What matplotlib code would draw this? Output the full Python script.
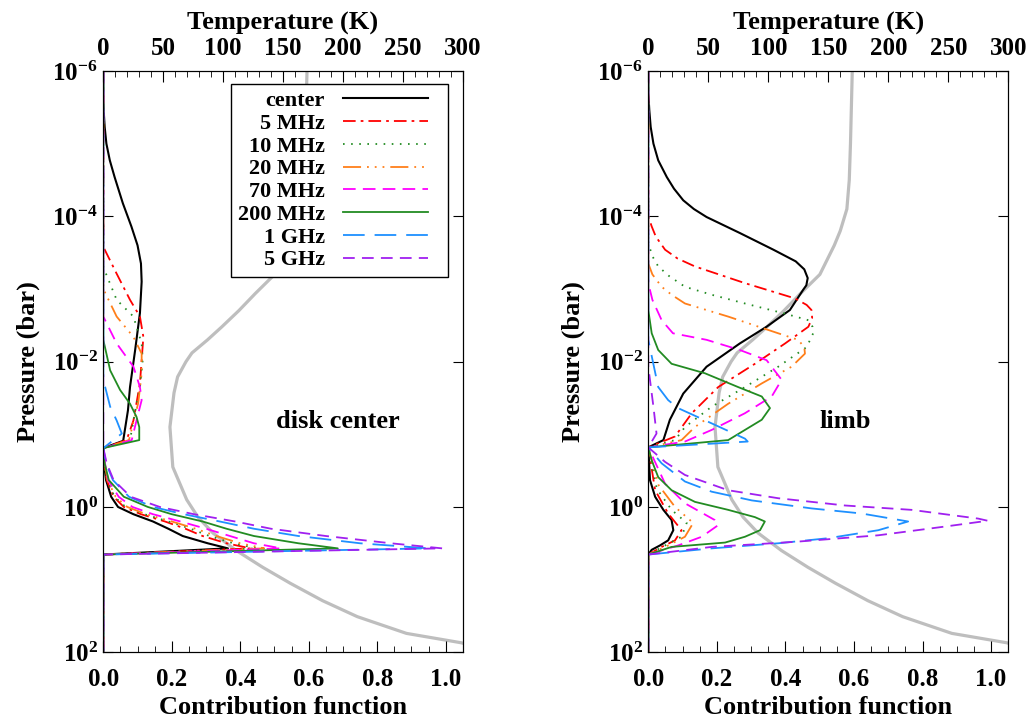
import numpy as np
import matplotlib
matplotlib.use('Agg')
import matplotlib.pyplot as plt
from matplotlib.lines import Line2D
from matplotlib.legend_handler import HandlerLine2D
from matplotlib.ticker import FixedLocator, FixedFormatter, MultipleLocator, NullLocator, FormatStrFormatter

plt.rcParams['font.family'] = ['Liberation Serif', 'DejaVu Serif']
plt.rcParams['font.weight'] = 'bold'
plt.rcParams['axes.labelweight'] = 'bold'
plt.rcParams['mathtext.fontset'] = 'custom'
plt.rcParams['mathtext.rm'] = 'Liberation Serif:bold'
plt.rcParams['mathtext.it'] = 'Liberation Serif:bold'
plt.rcParams['mathtext.bf'] = 'Liberation Serif:bold'

labels = ['center', '5 MHz', '10 MHz', '20 MHz', '70 MHz', '200 MHz', '1 GHz', '5 GHz']

# temperature profile: (log10 P [bar], T [K])
temp_profile = [(-6, 170), (-5, 168.5), (-4.5, 167.5), (-4.1, 165.5), (-3.8, 160), (-3.6, 155),
                (-3.4, 149), (-3.2, 143), (-2.94, 127), (-2.7, 113), (-2.48, 99), (-2.3, 87),
                (-2.12, 74), (-2.0, 69), (-1.79, 62), (-1.57, 59), (-1.1, 55.6), (-0.55, 58),
                (-0.1, 69.6), (0.14, 79), (0.36, 91.6), (0.6, 111), (0.83, 133), (1.05, 156),
                (1.29, 183), (1.51, 212), (1.74, 253), (1.87, 299), (2.0, 325)]

# contribution functions, disk center: (log10 P, CF)
disk_center = [(-6, 0), (-5.6, 0), (-5.46, 0.001), (-5.23, 0.004), (-5.0, 0.009), (-4.77, 0.019),
               (-4.54, 0.033), (-4.18, 0.057), (-3.86, 0.082),
               (-3.6, 0.100), (-3.35, 0.110), (-3.1, 0.112), (-2.67, 0.107), (-2.16, 0.093),
               (-1.65, 0.078), (-1.33, 0.072), (-0.91, 0.058), (-0.81, 0), (-0.6, 0.002),
               (-0.37, 0.008), (-0.14, 0.023), (0.0, 0.043), (0.1, 0.088), (0.2, 0.145),
               (0.3, 0.19), (0.4, 0.232), (0.5, 0.305), (0.57, 0.364), (0.655, 0), (2, 0)]
disk_5mhz = [(-6, 0), (-3.58, 0), (-3.21, 0.039), (-2.85, 0.078), (-2.62, 0.107), (-2.34, 0.117),
             (-2.02, 0.112), (-1.70, 0.107), (-1.19, 0.088), (-0.92, 0.068), (-0.81, 0),
             (-0.6, 0.003), (-0.37, 0.01), (-0.14, 0.03), (0.0, 0.06), (0.1, 0.11), (0.2, 0.18),
             (0.3, 0.24), (0.4, 0.29), (0.5, 0.36), (0.57, 0.43), (0.655, 0), (2, 0)]
disk_10mhz = [(-6, 0), (-3.3, 0), (-2.85, 0.039), (-2.62, 0.088), (-2.25, 0.112), (-2.02, 0.115),
              (-1.65, 0.107), (-1.29, 0.092), (-0.92, 0.078), (-0.81, 0),
              (-0.6, 0.003), (-0.37, 0.011), (-0.14, 0.033), (0.0, 0.065), (0.1, 0.12), (0.2, 0.19),
              (0.3, 0.255), (0.4, 0.31), (0.5, 0.38), (0.57, 0.45), (0.655, 0), (2, 0)]
disk_20mhz = [(-6, 0), (-3.0, 0), (-2.62, 0.039), (-2.34, 0.088), (-2.11, 0.112), (-1.84, 0.112),
              (-1.43, 0.102), (-0.92, 0.075), (-0.81, 0),
              (-0.6, 0.004), (-0.37, 0.012), (-0.14, 0.036), (0.0, 0.07), (0.1, 0.125), (0.2, 0.2),
              (0.3, 0.27), (0.4, 0.33), (0.5, 0.40), (0.57, 0.47), (0.655, 0), (2, 0)]
disk_70mhz = [(-6, 0), (-2.62, 0), (-2.25, 0.039), (-1.93, 0.088), (-1.65, 0.107), (-1.47, 0.112),
              (-1.19, 0.097), (-0.92, 0.083), (-0.81, 0),
              (-0.6, 0.005), (-0.37, 0.014), (-0.14, 0.045), (0.0, 0.085), (0.1, 0.145), (0.2, 0.225),
              (0.3, 0.30), (0.4, 0.37), (0.5, 0.44), (0.57, 0.52), (0.655, 0), (2, 0)]
disk_200mhz = [(-6, 0), (-2.3, 0), (-1.88, 0.02), (-1.61, 0.049), (-1.42, 0.078), (-1.24, 0.097),
               (-1.1, 0.105), (-0.92, 0.105), (-0.81, 0),
               (-0.6, 0.004), (-0.37, 0.016), (-0.14, 0.06), (0.0, 0.13), (0.1, 0.20), (0.2, 0.29),
               (0.3, 0.36), (0.4, 0.44), (0.5, 0.57), (0.57, 0.685), (0.655, 0), (2, 0)]
disk_1ghz = [(-6, 0), (-1.75, 0), (-1.38, 0.02), (-1.19, 0.039), (-1.01, 0.054), (-0.81, 0),
             (-0.6, 0.008), (-0.37, 0.028), (-0.14, 0.075), (0.0, 0.145), (0.1, 0.235), (0.2, 0.34),
             (0.3, 0.44), (0.4, 0.57), (0.5, 0.75), (0.57, 0.95), (0.655, 0), (2, 0)]
disk_5ghz = [(-6, 0), (-0.81, 0),
             (-0.6, 0.01), (-0.37, 0.03), (-0.14, 0.08), (0.0, 0.165), (0.1, 0.265), (0.2, 0.385),
             (0.3, 0.49), (0.4, 0.65), (0.5, 0.84), (0.57, 0.99), (0.655, 0), (2, 0)]

# contribution functions, limb
limb_center = [(-6, 0), (-5.7, 0), (-5.46, 0.003), (-5.23, 0.007), (-5.0, 0.015), (-4.77, 0.029),
               (-4.54, 0.054), (-4.38, 0.075), (-4.22, 0.102), (-4.1, 0.133), (-3.99, 0.17),
               (-3.77, 0.267), (-3.54, 0.365), (-3.38, 0.43), (-3.27, 0.455), (-3.15, 0.465),
               (-3.05, 0.461), (-2.99, 0.452),
               (-2.71, 0.413), (-2.48, 0.345), (-2.25, 0.267), (-1.93, 0.17), (-1.56, 0.102),
               (-1.2, 0.063), (-0.92, 0.044), (-0.82, 0), (-0.37, 0.005), (-0.14, 0.02),
               (0.04, 0.044), (0.18, 0.068), (0.32, 0.073), (0.46, 0.058), (0.53, 0.034),
               (0.59, 0.01), (0.655, 0), (2, 0)]
limb_5mhz = [(-6, 0), (-4.0, 0), (-3.86, 0.01), (-3.72, 0.022), (-3.54, 0.049), (-3.42, 0.085),
             (-3.31, 0.136), (-3.08, 0.282),
             (-2.87, 0.428), (-2.78, 0.462), (-2.71, 0.476), (-2.6, 0.478), (-2.48, 0.467),
             (-2.25, 0.399), (-1.97, 0.311),
             (-1.65, 0.204), (-1.29, 0.127), (-0.97, 0.078), (-0.82, 0), (-0.23, 0.02),
             (0.09, 0.058), (0.32, 0.097), (0.46, 0.078), (0.55, 0.039), (0.655, 0), (2, 0)]
limb_10mhz = [(-6, 0), (-3.63, 0), (-3.45, 0.012), (-3.31, 0.029), (-3.18, 0.06), (-3.03, 0.107),
              (-2.92, 0.185), (-2.80, 0.282),
              (-2.66, 0.399), (-2.57, 0.467), (-2.48, 0.479), (-2.39, 0.481), (-2.20, 0.462),
              (-1.93, 0.379),
              (-1.65, 0.282), (-1.38, 0.185), (-1.10, 0.107), (-0.92, 0.078), (-0.82, 0),
              (-0.25, 0.025), (0.04, 0.068), (0.22, 0.112), (0.41, 0.097), (0.53, 0.049),
              (0.655, 0), (2, 0)]
limb_20mhz = [(-6, 0), (-3.35, 0), (-3.2, 0.012), (-3.03, 0.039), (-2.92, 0.068), (-2.80, 0.107),
              (-2.62, 0.233), (-2.39, 0.379),
              (-2.30, 0.437), (-2.2, 0.455), (-2.11, 0.457), (-1.93, 0.418), (-1.70, 0.331),
              (-1.42, 0.233),
              (-1.10, 0.136), (-0.92, 0.097), (-0.82, 0), (-0.3, 0.03), (0.0, 0.078),
              (0.22, 0.131), (0.41, 0.107), (0.53, 0.058), (0.655, 0), (2, 0)]
limb_70mhz = [(-6, 0), (-3.08, 0), (-2.85, 0.012), (-2.57, 0.039), (-2.39, 0.072), (-2.30, 0.17),
              (-2.16, 0.267),
              (-2.02, 0.345), (-1.75, 0.389), (-1.52, 0.36), (-1.29, 0.282), (-1.06, 0.185),
              (-0.9, 0.107), (-0.82, 0), (-0.32, 0.049), (-0.05, 0.107), (0.18, 0.194),
              (0.25, 0.204), (0.41, 0.156), (0.53, 0.087), (0.655, 0), (2, 0)]
limb_200mhz = [(-6, 0), (-2.71, 0), (-2.39, 0.01), (-2.16, 0.029), (-1.97, 0.068), (-1.84, 0.165),
               (-1.65, 0.262), (-1.52, 0.331), (-1.36, 0.355), (-1.20, 0.331), (-0.92, 0.233),
               (-0.82, 0), (-0.64, 0.01), (-0.41, 0.029), (-0.23, 0.068), (-0.07, 0.136),
               (0.04, 0.233), (0.14, 0.311), (0.2, 0.34), (0.32, 0.326), (0.41, 0.282),
               (0.49, 0.224), (0.55, 0.068), (0.655, 0), (2, 0)]
limb_1ghz = [(-6, 0), (-2.3, 0), (-1.65, 0.029), (-1.47, 0.058), (-1.36, 0.087), (-1.15, 0.185),
             (-0.94, 0.282), (-0.90, 0.29), (-0.82, 0), (-0.6, 0.039), (-0.35, 0.107),
             (-0.21, 0.185), (-0.09, 0.302), (0.02, 0.476), (0.09, 0.622), (0.2, 0.758),
             (0.32, 0.671), (0.43, 0.525), (0.5, 0.379), (0.57, 0.185), (0.655, 0), (2, 0)]
limb_5ghz = [(-6, 0), (-1.93, 0), (-1.38, 0.015), (-1.01, 0.024), (-0.82, 0), (-0.62, 0.049),
             (-0.44, 0.107), (-0.23, 0.233), (-0.12, 0.379), (-0.02, 0.574), (0.04, 0.768),
             (0.16, 0.962), (0.19, 0.99), (0.27, 0.865), (0.39, 0.671), (0.48, 0.428),
             (0.55, 0.185), (0.655, 0), (2, 0)]

disk_curves = [disk_center, disk_5mhz, disk_10mhz, disk_20mhz, disk_70mhz, disk_200mhz, disk_1ghz, disk_5ghz]
limb_curves = [limb_center, limb_5mhz, limb_10mhz, limb_20mhz, limb_70mhz, limb_200mhz, limb_1ghz, limb_5ghz]

styles = [
    dict(color='black', lw=1.5, ls='-'),
    dict(color='#FF0000', lw=1.3, dashes=(7, 2.8, 1.5, 2.8)),
    dict(color='#228B22', lw=1.3, dashes=(0.9, 3.6)),
    dict(color='#FF7F1A', lw=1.3, dashes=(10, 3.3, 1, 3.3, 1, 3.3, 1, 3.3)),
    dict(color='#FF00FF', lw=1.3, dashes=(7, 4)),
    dict(color='#228B22', lw=1.3, ls='-'),
    dict(color='#1E90FF', lw=1.3, dashes=(12, 5.5)),
    dict(color='#A020F0', lw=1.3, dashes=(6.5, 4)),
]


class ShortLine(HandlerLine2D):
    # legend line that leaves some empty room on its right side
    def create_artists(self, legend, orig_handle, xdescent, ydescent, width, height, fontsize, trans):
        arts = super().create_artists(legend, orig_handle, xdescent, ydescent, width, height,
                                      fontsize, trans)
        for a in arts:
            xd = np.asarray(a.get_xdata(), dtype=float)
            if len(xd) >= 2:
                a.set_xdata(np.linspace(xd[0], xd[-1] - 10, len(xd)))
        return arts


def draw_panel(ax, curves, title, title_x, with_legend):
    tw = ax.twiny()
    lp = np.array([p[0] for p in temp_profile])
    tt = np.array([p[1] for p in temp_profile])
    tw.plot(tt, 10.0 ** lp, color='#BEBEBE', lw=2.3)
    tw.set_xlim(0, 300)
    tw.xaxis.set_major_locator(MultipleLocator(50))
    tw.xaxis.set_minor_locator(MultipleLocator(10))
    tw.tick_params(axis='x', which='both', direction='in', labelsize=18, pad=8)
    tw.tick_params(axis='x', which='major', length=8)
    tw.tick_params(axis='x', which='minor', length=4)
    tw.set_xlabel('Temperature (K)', fontsize=19, labelpad=5)

    for pts, lab, st in zip(curves, labels, styles):
        x = [p[1] for p in pts]
        y = [10.0 ** p[0] for p in pts]
        ax.plot(x, y, label=lab, **st)

    ax.set_yscale('log')
    ax.set_ylim(1e2, 1e-6)
    ax.set_xlim(0, 1.05)
    ax.yaxis.set_major_locator(FixedLocator([1e-6, 1e-4, 1e-2, 1e0, 1e2]))
    ax.yaxis.set_major_formatter(FixedFormatter([r'$10^{-6}$', r'$10^{-4}$', r'$10^{-2}$',
                                                 r'$10^{0}$', r'$10^{2}$']))
    ax.yaxis.set_minor_locator(NullLocator())
    ax.xaxis.set_major_locator(MultipleLocator(0.2))
    ax.xaxis.set_minor_locator(MultipleLocator(0.05))
    ax.xaxis.set_major_formatter(FormatStrFormatter('%.1f'))
    ax.tick_params(axis='both', which='both', direction='in', labelsize=18)
    ax.tick_params(axis='x', which='major', length=8, pad=11, top=False)
    ax.tick_params(axis='x', which='minor', length=4, top=False)
    ax.tick_params(axis='y', which='major', length=7, right=True, pad=4)
    ax.set_xlabel('Contribution function', fontsize=19, labelpad=4)
    ax.set_ylabel('Pressure (bar)', fontsize=19, labelpad=9)
    ax.text(title_x, 0.397, title, transform=ax.transAxes, ha='center', va='center', fontsize=19)

    ax.set_zorder(tw.get_zorder() + 1)
    ax.patch.set_visible(False)

    if with_legend:
        leg = ax.legend(loc='upper right', bbox_to_anchor=(0.96, 0.978), borderaxespad=0,
                        markerfirst=False, fancybox=False, edgecolor='black', framealpha=1,
                        fontsize=16, handlelength=4.45, labelspacing=0.1, borderpad=0.3,
                        handletextpad=0.8, handler_map={Line2D: ShortLine()})
        leg.get_frame().set_linewidth(1.0)


fig = plt.figure(figsize=(10.3, 7.19), dpi=100)
ax1 = fig.add_axes([0.1003, 0.0928, 0.349, 0.8085])
ax2 = fig.add_axes([0.6294, 0.0928, 0.3495, 0.8085])
draw_panel(ax1, disk_curves, 'disk center', 0.653, True)
draw_panel(ax2, limb_curves, 'limb', 0.548, False)

fig.savefig('out.png', dpi=100)
